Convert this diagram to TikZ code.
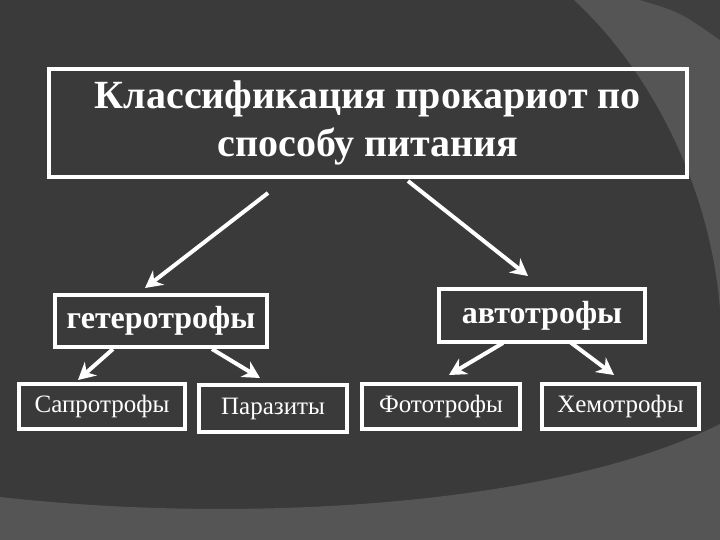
\documentclass[tikz,border=0pt]{standalone}
\usepackage{fontspec}
\setmainfont{Liberation Serif}
\usetikzlibrary{arrows.meta}
\definecolor{bgdark}{HTML}{3A3A3A}
\definecolor{bglight}{HTML}{555555}
\begin{document}
\begin{tikzpicture}[x=1pt,y=-1pt,
  box/.style={draw=white,line width=4pt,text=white,font=\bfseries,inner sep=0pt,anchor=north west},
  arr/.style={draw=white,line width=4pt,-{Stealth[length=17pt,width=18pt]}}]
\fill[bgdark] (0,0) rectangle (720,540);
\useasboundingbox (0,0) rectangle (720,540);
\fill[bglight] (0,497) .. controls (250,525) and (560,505) .. (720,424) -- (720,540) -- (0,540) -- cycle;
\fill[bglight] (574,0) .. controls (660,80) and (712,200) .. (720,310) -- (720,0) -- cycle;
\fill[bgdark!80!bglight] (640,0) .. controls (680,12) .. (720,40) -- (720,0) -- cycle;
\node[box,minimum width=638pt,minimum height=108pt,align=center,font=\bfseries\fontsize{40}{48}\selectfont] (t) at (47,67) {Классификация прокариот по\\способу питания};
\node[box,minimum width=212pt,minimum height=52pt,font=\bfseries\fontsize{32}{34}\selectfont] (h) at (53,293) {гетеротрофы};
\node[box,minimum width=206pt,minimum height=53pt,font=\bfseries\fontsize{32}{34}\selectfont] (a) at (437,287) {автотрофы};
\node[box,minimum width=166pt,minimum height=45pt,font=\fontsize{25}{27}\selectfont] (s) at (17,382) {Сапротрофы};
\node[box,minimum width=148pt,minimum height=47pt,font=\fontsize{25}{27}\selectfont] (p) at (197,383) {Паразиты};
\node[box,minimum width=158pt,minimum height=45pt,font=\fontsize{25}{27}\selectfont] (f) at (360,382) {Фототрофы};
\node[box,minimum width=157pt,minimum height=45pt,font=\fontsize{25}{27}\selectfont] (x) at (540,382) {Хемотрофы};
\coordinate (t1) at (268,193); \coordinate (t1e) at (145,288);
\coordinate (t2) at (408,181); \coordinate (t2e) at (528,276);
\coordinate (h1) at (113,349); \coordinate (h1e) at (78,380);
\coordinate (h2) at (212,349); \coordinate (h2e) at (260,378);
\coordinate (a1) at (503,343); \coordinate (a1e) at (449,375);
\coordinate (a2) at (570,342); \coordinate (a2e) at (614,375);
\draw[arr] (t1) -- (t1e); \draw[arr] (t2) -- (t2e);
\draw[arr] (h1) -- (h1e); \draw[arr] (h2) -- (h2e);
\draw[arr] (a1) -- (a1e); \draw[arr] (a2) -- (a2e);
\end{tikzpicture}
\end{document}
